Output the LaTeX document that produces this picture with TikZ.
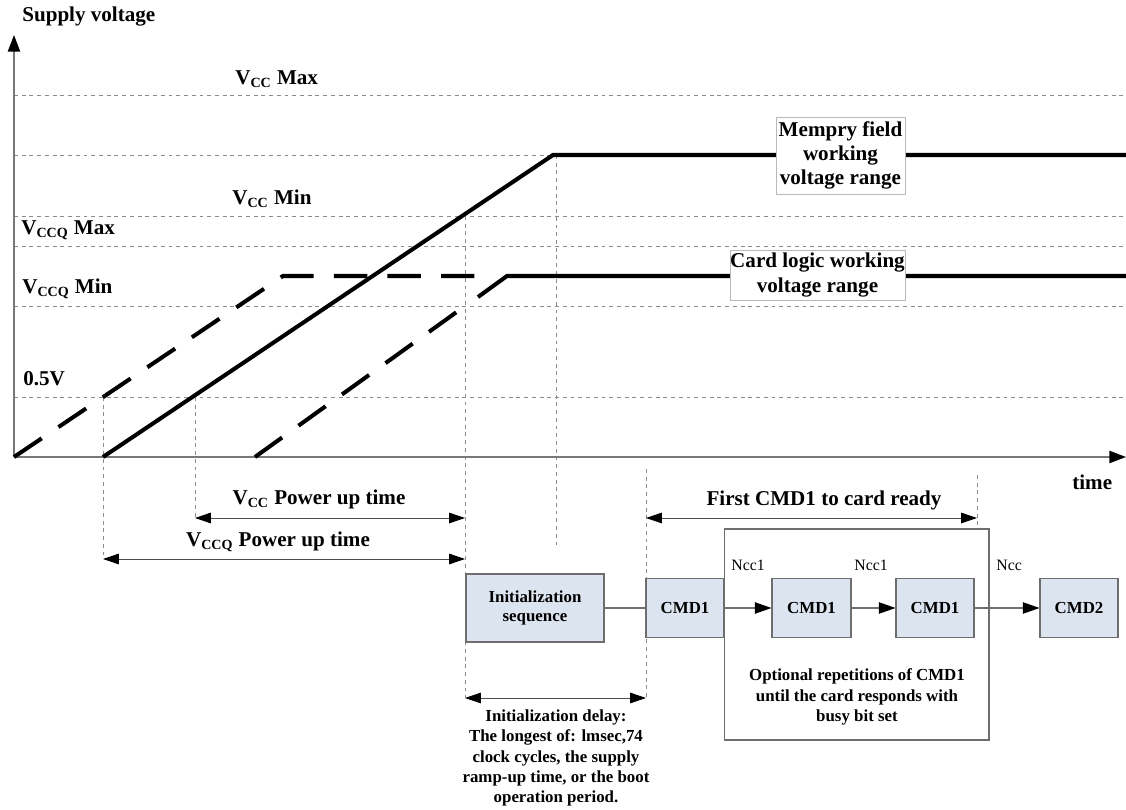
\documentclass[tikz,border=0pt]{standalone}
\usepackage{fontspec}
\setmainfont{Liberation Serif}
\usetikzlibrary{arrows.meta}
\definecolor{boxfill}{RGB}{220,228,240}
\definecolor{boxline}{RGB}{110,110,110}
\definecolor{guide}{RGB}{140,140,140}
\definecolor{axisc}{RGB}{120,120,120}
\begin{document}
\begin{tikzpicture}[x=0.02cm,y=-0.02cm,
  gridline/.style={draw=guide, line width=0.45pt, dash pattern=on 2.2pt off 2.2pt},
  axisline/.style={draw=axisc, line width=0.8pt, -{Triangle[length=9.5pt,width=7pt,color=black]}},
  solidc/.style={line width=2.3pt, line cap=butt, line join=miter},
  dashc/.style={line width=2.3pt, line cap=butt, line join=miter, dash pattern=on 19pt off 11.5pt},
  lbl/.style={font=\bfseries\fontsize{12}{14}\selectfont, inner sep=0pt},
  note/.style={font=\bfseries\fontsize{9.6}{11.6}\selectfont, align=center, inner sep=0pt},
  ncc/.style={font=\fontsize{9}{11}\selectfont, inner sep=0pt, anchor=west},
  rangebox/.style={draw=gray!55, fill=white, line width=0.4pt, align=center, inner sep=0pt},
  blockbox/.style={draw=boxline, fill=boxfill, line width=0.6pt, align=center,
     font=\bfseries\fontsize{9.6}{11.3}\selectfont, inner sep=0pt, minimum height=1.18cm},
  flow/.style={draw=boxline, line width=0.6pt},
  flowarr/.style={flow, -{Triangle[length=9.5pt,width=6.5pt,color=black]}},
  dimarr/.style={draw=black!70, line width=0.5pt, {Triangle[length=9pt,width=6pt,color=black]}-{Triangle[length=9pt,width=6pt,color=black]}}
]
\useasboundingbox (0,0) rectangle (1126,810);

% horizontal guide lines
\foreach \yy in {95,155,216,246,306,397}
  \draw[gridline] (14,\yy) -- (1126,\yy);

% vertical guide lines
\draw[gridline] (103,397) -- (103,559);
\draw[gridline] (195,397) -- (195,518);
\draw[gridline] (465,216) -- (465,698);
\draw[gridline] (556,155) -- (556,548);
\draw[gridline] (646,469) -- (646,698);
\draw[gridline] (977,475) -- (977,529);

% axes
\coordinate (O) at (14,457);
\coordinate (ytop) at (14,35);
\coordinate (xend) at (1126,457);
\draw[axisline] (O) -- (ytop);
\draw[axisline] (O) -- (xend);

% curves
\draw[dashc] (14,457) -- (283,276) -- (483,276);
\draw[solidc] (103,457) -- (553,155) -- (1126,155);
\draw[dashc] (255,457) -- (465,306);
\draw[solidc] (478,297) -- (507,276) -- (1126,276);

% range labels
\node[rangebox, minimum width=2.58cm, minimum height=1.54cm,
      font=\bfseries\fontsize{12}{13.6}\selectfont] (mem) at (840.5,155.5)
      {Mempry field\\working\\voltage range};
\node[rangebox, minimum width=3.5cm, minimum height=1.0cm,
      font=\bfseries\fontsize{12}{14.2}\selectfont] (card) at (817.5,275)
      {Card logic working\\voltage range};

% axis and level labels
\node[lbl, anchor=west] (ylab) at (22,17) {Supply voltage};
\node[lbl, anchor=west] (tlab) at (1072,482) {time};
\node[lbl, anchor=west] (vccmax) at (235,79) {V\textsubscript{CC} Max};
\node[lbl, anchor=west] (vccmin) at (232,199) {V\textsubscript{CC} Min};
\node[lbl, anchor=west] (vccqmax) at (21,230) {V\textsubscript{CCQ} Max};
\node[lbl, anchor=west] (vccqmin) at (22,289) {V\textsubscript{CCQ} Min};
\node[lbl, anchor=west] (half) at (23,379) {0.5V};

% dimension arrows
\coordinate (a1) at (195,518); \coordinate (a2) at (465,518);
\draw[dimarr] (a1) -- (a2);
\node[lbl] (vccput) at (319,499) {V\textsubscript{CC} Power up time};
\coordinate (b1) at (103,559); \coordinate (b2) at (465,559);
\draw[dimarr] (b1) -- (b2);
\node[lbl] (vccqput) at (278,542) {V\textsubscript{CCQ} Power up time};
\coordinate (f1) at (646,518); \coordinate (f2) at (977,518);
\draw[dimarr] (f1) -- (f2);
\node[lbl] (first) at (824,500) {First CMD1 to card ready};
\coordinate (d1) at (465,698); \coordinate (d2) at (646,698);
\draw[dimarr] (d1) -- (d2);

% flow blocks
\node[draw=boxline, line width=0.6pt, minimum width=5.3cm, minimum height=4.22cm, inner sep=0pt] (rep) at (856.5,634.5) {};
\node[blockbox, minimum width=2.76cm, minimum height=1.36cm] (init) at (535,608) {Initialization\\sequence};
\node[blockbox, minimum width=1.56cm] (c1) at (685,608) {CMD1};
\node[blockbox, minimum width=1.58cm] (c2) at (811.5,608) {CMD1};
\node[blockbox, minimum width=1.56cm] (c3) at (935,608) {CMD1};
\node[blockbox, minimum width=1.56cm] (c4) at (1079,608) {CMD2};
\draw[flow] (init) -- (c1);
\draw[flowarr] (c1) -- (c2);
\draw[flowarr] (c2) -- (c3);
\draw[flowarr] (c3) -- (c4);

\node[ncc] (n1) at (731,565) {Ncc1};
\node[ncc] (n2) at (854,565) {Ncc1};
\node[ncc] (n3) at (996,565) {Ncc};

\node[note] (opt) at (857,697) {Optional repetitions of CMD1\\until the card responds with\\busy bit set};
\node[note] (idl) at (556,758) {Initialization delay:\\The longest of: lmsec,74\\clock cycles, the supply\\ramp-up time, or the boot\\operation period.};
\end{tikzpicture}
\end{document}
